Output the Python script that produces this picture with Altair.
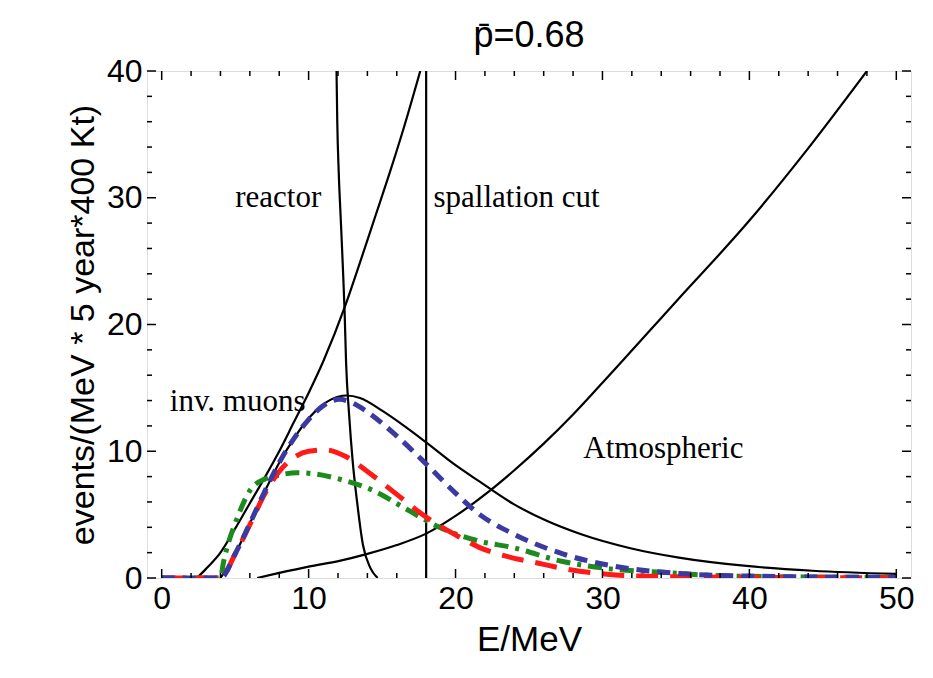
import altair as alt
import pandas as pd

W, H = 764, 507

# ---------------- data ----------------
REACTOR_E = [11.9, 11.95, 12.05, 12.2, 12.35, 12.45, 12.55, 12.75, 13.0, 13.3, 13.7, 14.2, 14.7]
REACTOR_N = [40, 36, 32, 28, 24, 21, 17, 13, 9.2, 6.0, 2.6, 0.8, 0]

MUON_E = [2.4, 3.0, 4.0, 5.0, 6.0, 7.0, 8.0, 9.0, 10.0, 11.0, 12.5, 13.5, 14.5, 15.5, 16.5, 17.6]
MUON_N = [0, 0.7, 2.0, 3.9, 5.9, 7.9, 10.0, 12.3, 14.6, 17.1, 21.5, 24.9, 28.4, 31.9, 35.6, 40]

ATM_E = [6.5, 8, 10, 12.1, 14, 16, 18, 20, 22.3, 24, 26, 28, 30, 35, 40, 44, 48]
ATM_N = [0, 0.4, 0.9, 1.35, 1.9, 2.6, 3.5, 4.9, 6.85, 8.5, 10.6, 12.9, 15.4, 21.8, 28.2, 33.9, 40]

TOTAL_E = [4.0, 5, 6, 7, 8, 9, 10, 11, 12, 12.6, 13.5, 15, 16.5, 18, 20, 21.65, 23.9, 26.2,
           28.5, 31.9, 35.2, 39.8, 44.3, 50]
TOTAL_N = [0, 1.9, 4.3, 6.8, 9.1, 11.0, 12.6, 13.7, 14.3, 14.4, 14.2, 13.2, 12.0, 10.7, 8.9,
           7.6, 5.87, 4.51, 3.47, 2.35, 1.61, 0.95, 0.57, 0.32]

BLUE_E = [0, 4.0, 5, 6, 7, 8, 9, 10, 11, 12.1, 13, 14, 16, 18, 20, 21.65, 23.9, 27.3, 30.7,
          35.3, 40, 45, 50]
BLUE_N = [0, 0, 1.9, 4.3, 6.8, 9.1, 11.0, 12.5, 13.6, 14.1, 13.8, 13.1, 11.2, 9.0, 6.7, 5.0,
          3.5, 1.9, 0.95, 0.35, 0.15, 0.08, 0.05]

RED_E = [0, 4, 5, 6, 7, 8, 9, 10, 11.2, 12.5, 14, 16, 18, 20, 21.65, 23.5, 25.5, 27.8, 30.3,
         32.5, 36, 40, 45, 50]
RED_N = [0, 0, 1.9, 4.2, 6.6, 8.4, 9.5, 10.0, 10.1, 9.6, 8.4, 6.6, 4.8, 3.4, 2.4, 1.7, 1.2,
         0.65, 0.3, 0.15, 0.08, 0.05, 0.03, 0.02]

GREEN_E = [0, 4, 4.2, 4.6, 5, 6, 7, 7.6, 9.2, 10.5, 12.1, 14.4, 16.7, 18.9, 21.65, 23.9, 27.3,
           30.7, 34.1, 37.5, 42, 50]
GREEN_N = [0, 0, 1.2, 3.0, 4.3, 6.9, 7.8, 8.0, 8.3, 8.2, 7.8, 6.9, 5.4, 4.0, 2.9, 2.4, 1.3,
           0.7, 0.45, 0.2, 0.1, 0.05]

SPALLATION_CUT = 18

LABEL_TEXT = ["reactor", "spallation cut", "inv. muons", "Atmospheric"]
LABEL_E = [7.93, 18.5, 0.55, 28.7]
LABEL_N = [30.0, 30.0, 13.9, 10.2]
LABEL_ALIGN = ["center", "left", "left", "left"]

X_MAJOR = [0, 10, 20, 30, 40, 50]
X_MINOR = [v for v in range(2, 50, 2) if v % 10 != 0]
Y_MAJOR = [0, 10, 20, 30, 40]
Y_MINOR = [v for v in range(2, 40, 2) if v % 10 != 0]

# ---------------- chart ----------------
SANS = "Liberation Sans"
SERIF = "Liberation Serif"

x_scale = alt.Scale(domain=[-1, 51], nice=False, zero=False)
y_scale = alt.Scale(domain=[0, 40], nice=False, zero=False)

x_axis = alt.Axis(values=X_MAJOR, title="E/MeV", ticks=False, domain=False, grid=False,
                  labelFont=SANS, labelFontSize=32, labelPadding=5, labelColor="black",
                  labelFlush=False, titleFont=SANS, titleFontSize=35, titleFontWeight="normal",
                  titleColor="black", titlePadding=8)
y_axis = alt.Axis(values=Y_MAJOR, title="events/(MeV * 5 year*400 Kt)", ticks=False,
                  domain=False, grid=False, labelFont=SANS, labelFontSize=32, labelPadding=5,
                  labelColor="black", labelFlush=False, titleFont=SANS, titleFontSize=34,
                  titleFontWeight="normal", titleColor="black", titlePadding=6)


def X(field):
    return alt.X(f"{field}:Q", scale=x_scale, axis=x_axis)


def Y(field):
    return alt.Y(f"{field}:Q", scale=y_scale, axis=y_axis)


def curve(xs, ys, color, width, dash=None):
    kw = dict(color=color, strokeWidth=width, clip=True, interpolate="monotone")
    if dash is not None:
        kw["strokeDash"] = dash
    df = pd.DataFrame({"E": xs, "N": ys})
    return alt.Chart(df).mark_line(**kw).encode(x=X("E"), y=Y("N"))


layers = [
    curve(REACTOR_E, REACTOR_N, "black", 2.2),
    curve(MUON_E, MUON_N, "black", 2.2),
    curve(ATM_E, ATM_N, "black", 2.2),
    curve(TOTAL_E, TOTAL_N, "black", 2.2),
    alt.Chart(pd.DataFrame({"E": [SPALLATION_CUT]})).mark_rule(color="black", strokeWidth=2.2)
    .encode(x=X("E")),
    curve(GREEN_E, GREEN_N, "#1c8a1c", 5, [14, 7, 4, 7]),
    curve(RED_E, RED_N, "#ff1a1a", 5, [22, 12]),
    curve(BLUE_E, BLUE_N, "#3a3aa0", 5, [13, 8]),
]

# inward ticks on all four sides
xmaj = pd.DataFrame({"t": X_MAJOR})
xmin = pd.DataFrame({"t": X_MINOR})
ymaj = pd.DataFrame({"t": Y_MAJOR})
ymin = pd.DataFrame({"t": Y_MINOR})
for df, ln in [(xmaj, 9), (xmin, 5)]:
    layers.append(alt.Chart(df).mark_rule(color="black", strokeWidth=1.5)
                  .encode(x=X("t"), y=alt.value(H), y2=alt.value(H - ln)))
    layers.append(alt.Chart(df).mark_rule(color="black", strokeWidth=1.5)
                  .encode(x=X("t"), y=alt.value(0), y2=alt.value(ln)))
for df, ln in [(ymaj, 9), (ymin, 5)]:
    layers.append(alt.Chart(df).mark_rule(color="black", strokeWidth=1.5)
                  .encode(y=Y("t"), x=alt.value(0), x2=alt.value(ln)))
    layers.append(alt.Chart(df).mark_rule(color="black", strokeWidth=1.5)
                  .encode(y=Y("t"), x=alt.value(W), x2=alt.value(W - ln)))

labels = pd.DataFrame({"E": LABEL_E, "N": LABEL_N, "txt": LABEL_TEXT, "al": LABEL_ALIGN})
for al in ["center", "left"]:
    layers.append(alt.Chart(labels).transform_filter(alt.datum.al == al)
                  .mark_text(font=SERIF, fontSize=31, color="black", align=al,
                             baseline="middle")
                  .encode(x=X("E"), y=Y("N"), text="txt:N"))

chart = alt.layer(*layers).properties(
    width=W, height=H,
    title=alt.TitleParams("p\u0304=0.68", font=SANS, fontSize=36, fontWeight="normal",
                          color="black", anchor="middle", offset=0),
    autosize=alt.AutoSizeParams(type="none"),
    padding={"left": 147, "top": 71, "right": 22, "bottom": 100},
).configure_view(stroke="black", strokeWidth=2).configure(background="white")

chart.save("out.html", embed_options={"renderer": "svg", "actions": False})
